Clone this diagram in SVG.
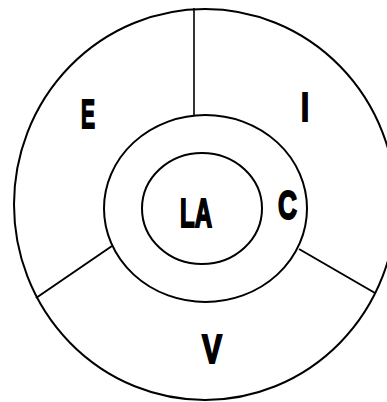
<svg xmlns="http://www.w3.org/2000/svg" width="387" height="402" viewBox="0 0 387 402">
<style>
.s{fill:none;stroke:#000;stroke-width:2}
.t{font-family:"Liberation Sans","DejaVu Sans",sans-serif;font-weight:bold;font-size:40px;fill:#000;stroke:#000;stroke-width:2;stroke-linejoin:miter}
</style>
<rect width="387" height="402" fill="#fff"/>
<g id="outer"><ellipse class="s" cx="205" cy="204.5" rx="191" ry="195.5"/></g>
<g id="middle"><ellipse class="s" cx="205.5" cy="208.5" rx="101.5" ry="93.5"/></g>
<g id="inner"><ellipse class="s" cx="202" cy="208.5" rx="60" ry="55.5"/></g>
<g id="connectors">
<line class="s" x1="194" y1="8" x2="194" y2="115" style="stroke-width:1.6"/>
<line class="s" x1="36" y1="298" x2="112" y2="246"/>
<line class="s" x1="299" y1="249" x2="375" y2="293"/>
</g>
<g id="labels">
<text class="t" x="81" y="128" textLength="14" lengthAdjust="spacingAndGlyphs">E</text>
<text class="t" x="301" y="121" textLength="8" lengthAdjust="spacingAndGlyphs">I</text>
<text class="t" x="180" y="227" textLength="32" lengthAdjust="spacingAndGlyphs">LA</text>
<text class="t" x="278" y="219" textLength="19" lengthAdjust="spacingAndGlyphs">C</text>
<text class="t" x="202" y="363" textLength="20" lengthAdjust="spacingAndGlyphs">V</text>
</g>
</svg>
